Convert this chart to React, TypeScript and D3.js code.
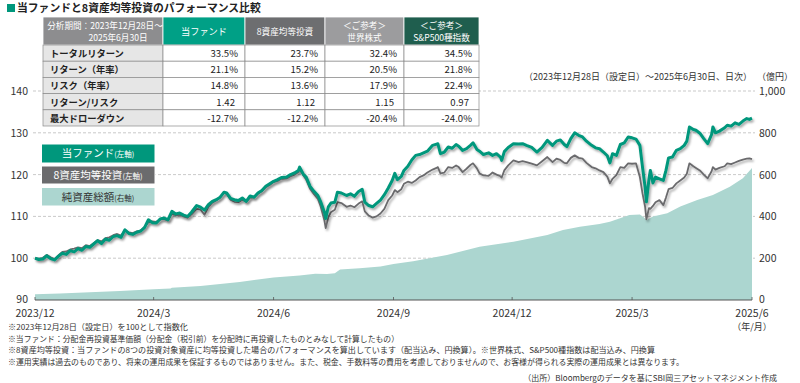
import React from 'react';
import * as d3 from 'd3';

// ---------------- data ----------------
const launchDate = new Date(2023, 11, 28);

// trading-day sample offsets (days since 2023-12-28)
const dayOffsets = [
  0, 3, 6, 9, 12, 15, 18, 21, 24, 27,
  30, 33, 36, 39, 42, 45, 48, 51, 54, 57,
  60, 63, 66, 69, 72, 75, 78, 81, 84, 87,
  90, 93, 96, 99, 102, 105, 108, 111, 114, 117,
  120, 124, 127, 130, 133, 136, 139, 142, 145, 147,
  150, 153, 156, 159, 162, 165, 168, 171, 174, 177,
  180, 183, 186, 189, 193, 196, 199, 202, 203, 206,
  208, 211, 214, 217, 219, 222, 223, 225, 227, 230,
  232, 235, 239, 242, 245, 248, 251, 253, 256, 259,
  262, 265, 268, 271, 274, 276, 278, 281, 283, 286,
  289, 292, 295, 298, 301, 305, 308, 309, 311, 314,
  317, 320, 323, 325, 328, 331, 334, 336, 339, 341,
  344, 348, 351, 354, 357, 358, 360, 363, 367, 371,
  374, 377, 381, 385, 389, 393, 395, 397, 400, 403,
  406, 408, 411, 414, 417, 420, 423, 427, 430, 433,
  436, 439, 441, 443, 446, 449, 452, 455, 458, 461,
  464, 466, 468, 469, 471, 472, 474, 476, 479, 482,
  484, 486, 489, 492, 495, 498, 500, 502, 505, 507,
  510, 513, 516, 519, 520, 522, 525, 529, 531, 534,
  537, 540, 543, 546, 548, 550,
];

const fundIndex = [
  100.0, 99.7, 99.8, 100.6, 99.9, 99.6, 100.5, 101.2, 100.9, 101.8,
  101.5, 102.3, 101.9, 102.8, 102.6, 103.4, 104.2, 103.5, 104.6, 104.3,
  105.2, 105.4, 105.0, 106.8, 105.9, 105.7, 106.2, 106.5, 107.3, 109.2,
  108.5, 108.4, 109.4, 109.6, 109.2, 111.2, 110.6, 110.8, 110.3, 110.0,
  111.0, 112.6, 112.2, 111.5, 112.8, 113.6, 114.0, 114.6, 115.8, 115.6,
  114.3, 114.0, 113.8, 114.4, 113.6, 114.9, 114.6, 115.6, 116.2, 117.2,
  117.8, 118.4, 118.8, 119.3, 119.4, 120.0, 120.4, 121.0, 121.8, 120.0,
  119.4, 117.2, 116.0, 115.0, 113.6, 111.0, 109.5, 112.3, 113.2, 113.4,
  115.8, 115.6, 115.0, 115.4, 114.8, 115.9, 116.5, 113.4, 112.6, 112.3,
  113.1, 113.9, 115.2, 116.8, 118.6, 120.3, 118.8, 119.6, 121.0, 122.0,
  123.5, 124.6, 124.8, 125.2, 125.6, 127.0, 127.3, 127.4, 125.0, 125.4,
  126.6, 126.3, 127.2, 126.8, 125.8, 126.2, 127.0, 127.6, 126.0, 125.6,
  124.8, 125.2, 124.6, 125.0, 124.2, 123.4, 125.5, 126.5, 127.4, 127.3,
  127.4, 127.0, 126.5, 125.4, 126.5, 128.2, 127.6, 127.0, 128.0, 128.3,
  127.2, 126.7, 128.6, 130.0, 129.4, 129.0, 128.0, 127.0, 126.4, 126.2,
  125.4, 124.5, 122.8, 125.0, 124.6, 127.2, 127.6, 129.0, 128.8, 128.5,
  127.0, 121.8, 117.0, 113.5, 119.0, 121.0, 118.0, 119.4, 119.0, 118.6,
  121.0, 124.0, 124.2, 125.8, 126.2, 127.0, 128.0, 131.4, 130.8, 130.6,
  129.9, 128.6, 127.4, 129.6, 131.4, 130.0, 130.4, 131.2, 131.8, 131.6,
  132.4, 132.0, 132.8, 133.4, 133.2, 133.5,
];

const eightAssetIndex = [
  100.0, 99.9, 100.1, 100.8, 100.2, 99.8, 100.7, 101.5, 101.6, 102.1,
  102.3, 102.6, 102.4, 103.1, 102.9, 103.6, 104.3, 104.0, 104.8, 105.0,
  105.5, 105.8, 105.4, 106.7, 106.2, 106.0, 106.4, 106.6, 107.5, 108.6,
  108.8, 108.7, 109.2, 109.4, 109.0, 110.6, 110.3, 110.4, 110.0, 109.7,
  110.5, 111.8, 111.6, 110.4, 112.3, 113.3, 113.8, 114.5, 115.6, 115.4,
  114.0, 113.5, 113.4, 114.0, 113.5, 114.5, 114.5, 115.4, 116.0, 117.0,
  117.5, 118.2, 118.5, 119.0, 119.1, 119.6, 120.0, 120.6, 121.3, 119.8,
  118.8, 116.6, 115.3, 114.2, 112.5, 109.0, 107.2, 109.8, 111.0, 111.6,
  113.4, 113.2, 112.3, 112.6, 112.2, 113.0, 113.6, 111.2, 110.2, 109.7,
  110.0, 110.7, 111.8, 113.9, 115.0, 116.3, 115.8, 116.5, 117.8, 118.3,
  118.0, 118.6, 119.4, 119.8, 120.5, 121.2, 121.6, 121.8, 120.3, 120.5,
  121.8, 121.6, 122.2, 121.8, 120.6, 121.4, 122.3, 122.7, 121.5, 120.3,
  119.8, 119.7, 120.5, 120.0, 119.6, 119.3, 121.0, 122.2, 123.4, 123.0,
  123.2, 123.0, 122.6, 122.2, 123.2, 124.2, 123.6, 123.0, 123.8, 123.5,
  122.8, 122.7, 124.0, 124.6, 124.0, 123.8, 122.8, 121.8, 121.5, 121.0,
  120.6, 119.5, 117.9, 119.0, 119.9, 121.8, 121.6, 122.7, 122.6, 122.7,
  119.4, 115.5, 112.3, 109.3, 112.0, 111.8, 112.5, 113.4, 113.9, 112.7,
  114.5, 116.5, 116.8, 117.9, 118.6, 119.3, 120.2, 122.7, 122.0, 121.6,
  121.0, 120.0, 119.1, 120.8, 121.8, 121.2, 121.6, 122.0, 122.7, 122.5,
  122.9, 123.3, 123.6, 123.8, 123.9, 123.7,
];

// net assets (億円)
const navDays = [
  0, 19, 42, 65, 91, 104, 105, 127, 157, 183,
  203, 215, 224, 230, 234, 249, 265, 275, 290, 316,
  341, 367, 393, 405, 418, 433, 441, 456, 464, 467,
  469, 474, 485, 495, 508, 520, 533, 543, 550,
];
const navOku = [
  27, 31, 37, 43, 51, 55, 59, 67, 86, 108,
  117, 126, 125, 128, 146, 152, 160, 172, 186, 215,
  255, 279, 311, 335, 351, 364, 375, 407, 409, 396,
  383, 399, 415, 447, 478, 502, 542, 582, 632,
];

const leftTicks = [90, 100, 110, 120, 130, 140];
const rightTicks = [0, 200, 400, 600, 800, 1000];
const xTickDates = ['2023-12-28', '2024-03-28', '2024-06-28', '2024-09-28', '2024-12-28', '2025-03-30', '2025-06-30'];
const xTickLabels = ['2023/12', '2024/3', '2024/6', '2024/9', '2024/12', '2025/3', '2025/6'];

const tableRowLabels = ['トータルリターン', 'リターン（年率）', 'リスク（年率）', 'リターン/リスク', '最大ドローダウン'];
const fundStats = ['33.5%', '21.1%', '14.8%', '1.42', '-12.7%'];
const eightAssetStats = ['23.7%', '15.2%', '13.6%', '1.12', '-12.2%'];
const worldStockStats = ['32.4%', '20.5%', '17.9%', '1.15', '-20.4%'];
const sp500Stats = ['34.5%', '21.8%', '22.4%', '0.97', '-24.0%'];

const footnotes = [
  '※2023年12月28日（設定日）を100として指数化',
  '※当ファンド：分配金再投資基準価額（分配金（税引前）を分配時に再投資したものとみなして計算したもの）',
  '※8資産均等投資：当ファンドの8つの投資対象資産に均等投資した場合のパフォーマンスを算出しています（配当込み、円換算）。※世界株式、S&P500種指数は配当込み、円換算',
  '※運用実績は過去のものであり、将来の運用成果を保証するものではありません。また、税金、手数料等の費用を考慮しておりませんので、お客様が得られる実際の運用成果とは異なります。',
];
const footnoteWidths = [180, 391, 647, 676];

// ---------------- styling ----------------
const FONT = '"Noto Sans CJK JP", "Noto Sans", sans-serif';
const TEAL = '#00977c';
const GREY = '#6b6b6d';
const AREA = '#acd6d0';
const TEXT = '#333333';

const W = 800;
const H = 383;
const plot = { left: 35, right: 752, top: 91, bottom: 300 };

export default function App() {
  const dates = dayOffsets.map((d) => d3.timeDay.offset(launchDate, d));
  const navDates = navDays.map((d) => d3.timeDay.offset(launchDate, d));
  const parse = d3.timeParse('%Y-%m-%d');

  const x = d3.scaleTime()
    .domain([launchDate, d3.timeDay.offset(launchDate, 550)])
    .range([plot.left, plot.right]);
  const yL = d3.scaleLinear().domain([90, 140]).range([plot.bottom, plot.top]);
  const yR = d3.scaleLinear().domain([0, 1000]).range([plot.bottom, plot.top]);

  const fundPts = dates.map((d, i) => [d, fundIndex[i]] as [Date, number]);
  const eightPts = dates.map((d, i) => [d, eightAssetIndex[i]] as [Date, number]);
  const navPts = navDates.map((d, i) => [d, navOku[i]] as [Date, number]);

  const line = d3.line<[Date, number]>().x((p) => x(p[0])).y((p) => yL(p[1]));
  const area = d3.area<[Date, number]>().x((p) => x(p[0])).y0(yR(0)).y1((p) => yR(p[1]));

  // table geometry
  const colX = [43, 163, 245, 325, 404, 479];
  const headTop = 17;
  const headBottom = 45;
  const rowH = 16.2;
  const headerFills = ['#8d8d8f', '#00a086', '#6d6e70', '#9c9c9e', '#1f5e4e'];
  const statCols = [fundStats, eightAssetStats, worldStockStats, sp500Stats];

  const legend = [
    { main: '当ファンド', sub: '(左軸)', fill: TEAL, color: '#fff', y: 144, h: 19 },
    { main: '8資産均等投資', sub: '(左軸)', fill: GREY, color: '#fff', y: 166, h: 18 },
    { main: '純資産総額', sub: '(右軸)', fill: AREA, color: '#333', y: 187.5, h: 18.5 },
  ];

  return (
    <svg width={W} height={H} style={{ position: 'absolute', left: 0, top: 0, fontFamily: FONT }}>
      <defs>
        <filter id="shadow" x="-5%" y="-20%" width="110%" height="140%">
          <feDropShadow dx="1.5" dy="2" stdDeviation="1.3" floodColor="#000" floodOpacity="0.35" />
        </filter>
      </defs>
      <rect width={W} height={H} fill="#fff" />

      {/* title */}
      <rect x={7} y={4} width={8} height={8} fill={TEAL} />
      <text x={17} y={12} fontSize={10.8} fontWeight={700} fill="#222">当ファンドと8資産均等投資のパフォーマンス比較</text>

      {/* grid */}
      {leftTicks.filter((t) => t !== 90).map((t) => (
        <line key={t} x1={plot.left - 2} x2={plot.right + 3} y1={yL(t)} y2={yL(t)} stroke="#bbb" strokeWidth={0.8} strokeDasharray="3,2" />
      ))}

      {/* area */}
      <path d={area(navPts) || ''} fill={AREA} />

      {/* lines */}
      <path d={line(eightPts) || ''} fill="none" stroke={GREY} strokeWidth={1.8} strokeLinejoin="round" filter="url(#shadow)" />
      <path d={line(fundPts) || ''} fill="none" stroke={TEAL} strokeWidth={3} strokeLinejoin="round" filter="url(#shadow)" />

      {/* x axis */}
      <line x1={plot.left} x2={plot.right} y1={plot.bottom} y2={plot.bottom} stroke="#555" strokeWidth={1} />
      {xTickDates.map((d, i) => {
        const px = x(parse(d) as Date);
        return (
          <g key={d}>
            <line x1={px} x2={px} y1={plot.bottom} y2={plot.bottom - 3} stroke="#555" strokeWidth={0.8} />
            <text x={px} y={317} fontSize={10.5} fill={TEXT} textAnchor="middle">{xTickLabels[i]}</text>
          </g>
        );
      })}
      <text x={752} y={329.5} fontSize={9} fill={TEXT} textAnchor="middle">（年/月）</text>

      {/* left y ticks */}
      {leftTicks.map((t) => (
        <text key={t} x={28} y={yL(t) + (t === 90 ? 3 : 4)} fontSize={10.5} fill={TEXT} textAnchor="end">{t}</text>
      ))}
      {/* right y ticks */}
      {rightTicks.map((t) => (
        <text key={t} x={759} y={yR(t) + (t === 0 ? 2.5 : 4)} fontSize={10.5} fill={TEXT}>{d3.format(',')(t)}</text>
      ))}

      <text x={752} y={80} fontSize={9} fill={TEXT} textAnchor="end">（2023年12月28日（設定日）～2025年6月30日、日次）</text>
      <text x={757} y={80} fontSize={9} fill={TEXT}>（億円）</text>

      {/* legend */}
      {legend.map((l) => (
        <g key={l.main}>
          <rect x={41.5} y={l.y} width={113.5} height={l.h} fill={l.fill} stroke="#fff" strokeWidth={1} />
          <text x={98} y={l.y + l.h / 2 + 3.8} fontSize={10.5} fill={l.color} textAnchor="middle">
            {l.main}
            <tspan fontSize={7.5}>{l.sub}</tspan>
          </text>
        </g>
      ))}

      {/* table */}
      {headerFills.map((f, i) => (
        <rect key={'h' + i} x={colX[i]} y={headTop} width={colX[i + 1] - colX[i]} height={headBottom - headTop} fill={f} stroke="#fff" strokeWidth={0.8} />
      ))}
      <text x={(colX[0] + colX[1]) / 2 + 2} y={29} fontSize={8.6} fill="#fff" textAnchor="middle">分析期間：2023年12月28日～</text>
      <text x={(colX[0] + colX[1]) / 2 + 15} y={41} fontSize={8.6} fill="#fff" textAnchor="middle">2025年6月30日</text>
      <text x={(colX[1] + colX[2]) / 2} y={35} fontSize={9.2} fill="#fff" textAnchor="middle">当ファンド</text>
      <text x={(colX[2] + colX[3]) / 2} y={35} fontSize={8.6} fill="#fff" textAnchor="middle">8資産均等投資</text>
      <text x={(colX[3] + colX[4]) / 2} y={29} fontSize={8.6} fill="#fff" textAnchor="middle">＜ご参考＞</text>
      <text x={(colX[3] + colX[4]) / 2} y={41} fontSize={8.6} fill="#fff" textAnchor="middle">世界株式</text>
      <text x={(colX[4] + colX[5]) / 2} y={29} fontSize={8.6} fill="#fff" textAnchor="middle">＜ご参考＞</text>
      <text x={(colX[4] + colX[5]) / 2} y={41} fontSize={8.6} fill="#fff" textAnchor="middle">S&amp;P500種指数</text>

      {tableRowLabels.map((label, r) => {
        const top = headBottom + r * rowH;
        return (
          <g key={label}>
            <rect x={colX[0]} y={top} width={colX[1] - colX[0]} height={rowH} fill="#e6e6e6" stroke="#8a8a8a" strokeWidth={0.7} />
            <text x={colX[0] + 7} y={top + 12} fontSize={9.3} fontWeight={700} fill="#222">{label}</text>
            {statCols.map((col, c) => (
              <g key={c}>
                <rect x={colX[c + 1]} y={top} width={colX[c + 2] - colX[c + 1]} height={rowH} fill="#fff" stroke="#8a8a8a" strokeWidth={0.7} />
                <text x={colX[c + 2] - (r === 3 ? 10 : 7)} y={top + 12} fontSize={9.6} fill="#222" textAnchor="end">{col[r]}</text>
              </g>
            ))}
          </g>
        );
      })}

      {/* footnotes */}
      {footnotes.map((f, i) => (
        <text key={i} x={8} y={330 + i * 11.6} fontSize={8} fill={TEXT} textLength={footnoteWidths[i]} lengthAdjust="spacingAndGlyphs">{f}</text>
      ))}
      <text x={777} y={380.5} fontSize={8} fill={TEXT} textAnchor="end">（出所）Bloombergのデータを基にSBI岡三アセットマネジメント作成</text>
    </svg>
  );
}
